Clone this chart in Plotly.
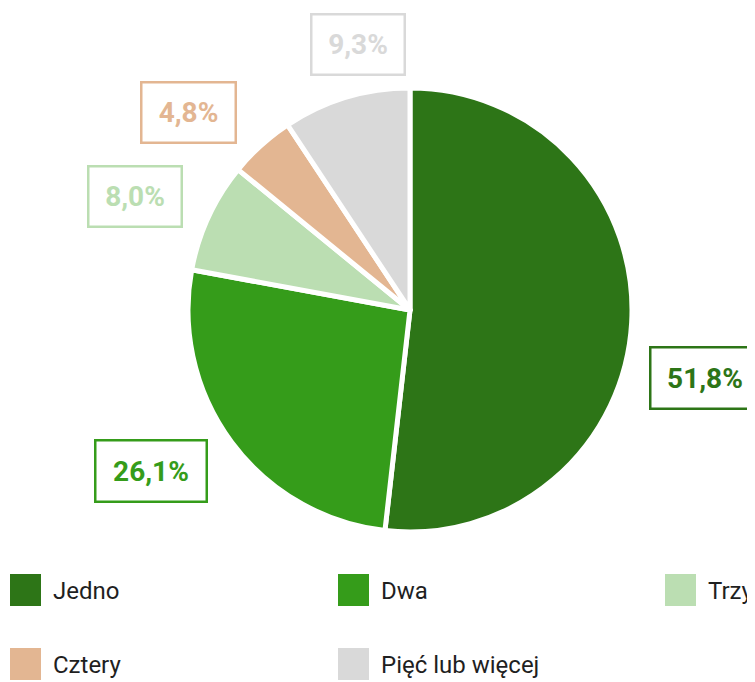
import plotly.graph_objects as go

# ---- data ----
categories = ["Jedno", "Dwa", "Trzy", "Cztery", "Pięć lub więcej"]
values = [51.8, 26.1, 8.0, 4.8, 9.3]
pct_labels = ["51,8%", "26,1%", "8,0%", "4,8%", "9,3%"]
colors = ["#2d7517", "#359c1a", "#bbdeb2", "#e3b692", "#d9d9d9"]

# ---- layout helpers (page pixels; page body has an 8px margin) ----
OFF = 8
W, H = 755 - OFF, 682 - OFF
FONT = "Roboto, 'Noto Sans', sans-serif"
cx, cy, r = 410, 310, 222


def px(x):
    return (x - OFF) / W


def py(y):
    return 1 - (y - OFF) / H


fig = go.Figure(
    go.Pie(
        labels=categories,
        values=values,
        sort=False,
        direction="clockwise",
        rotation=0,
        marker=dict(colors=colors, line=dict(color="white", width=5)),
        textinfo="none",
        hoverinfo="label+percent",
        showlegend=False,
        domain=dict(x=[px(cx - r), px(cx + r)], y=[py(cy + r), py(cy - r)]),
    )
)

# value label boxes (centre px, box size px)
label_boxes = [
    ((705, 378), (112, 64)),
    ((151, 471), (114, 64)),
    ((135, 196), (96, 63)),
    ((188, 112), (97, 63)),
    ((358, 45), (96, 63)),
]
annotations = []
for txt, col, ((bx, by), (bw, bh)) in zip(pct_labels, colors, label_boxes):
    annotations.append(dict(
        x=px(bx), y=py(by), xref="paper", yref="paper",
        xanchor="center", yanchor="middle",
        text="<b>%s</b>" % txt, showarrow=False,
        font=dict(family=FONT, size=28, color=col),
        bordercolor=col, borderwidth=2.5, borderpad=0,
        bgcolor="white", width=bw - 5, height=bh - 5, align="center",
    ))

# custom legend (3 columns)
shapes = []
col_x = [10, 338, 665]
row_y = [574, 648]
sq_w, sq_h = 31, 32
for i, (name, col) in enumerate(zip(categories, colors)):
    lx = col_x[i % 3]
    ly = row_y[i // 3]
    shapes.append(dict(
        type="rect", xref="paper", yref="paper",
        x0=px(lx), x1=px(lx + sq_w), y0=py(ly + sq_h), y1=py(ly),
        fillcolor=col, line=dict(width=0),
    ))
    annotations.append(dict(
        x=px(lx + 41), y=py(ly + sq_h / 2 + 1), xref="paper", yref="paper",
        xanchor="left", yanchor="middle", text=name, showarrow=False,
        font=dict(family=FONT, size=24, color="#1f1f1f"),
    ))

fig.update_layout(
    width=W, height=H,
    margin=dict(l=0, r=0, t=0, b=0),
    paper_bgcolor="white", plot_bgcolor="white",
    annotations=annotations, shapes=shapes,
    showlegend=False,
)

fig.write_html("out.html")
